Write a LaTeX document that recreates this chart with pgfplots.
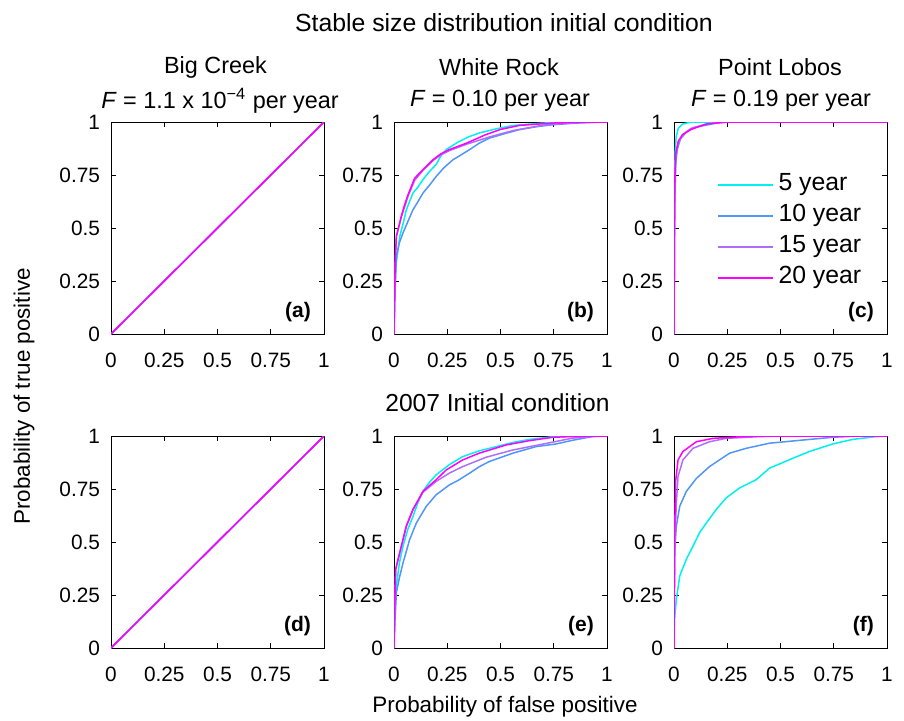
\documentclass[border=0pt]{standalone}
\usepackage{fontspec}
\setmainfont{Liberation Sans}
\usepackage{pgfplots}
\pgfplotsset{compat=1.18}

\definecolor{c5}{RGB}{0,240,240}
\definecolor{c10}{RGB}{80,150,250}
\definecolor{c15}{RGB}{175,110,250}
\definecolor{c20}{RGB}{255,0,255}

\pgfplotsset{
  rocax/.style={
    scale only axis,
    width=106.5pt, height=106pt,
    xmin=0, xmax=1, ymin=0, ymax=1,
    xtick={0,0.25,0.5,0.75,1},
    ytick={0,0.25,0.5,0.75,1},
    tick align=inside,
    major tick length=2.5pt,
    axis line style={line width=0.5pt},
    every tick/.style={black, line width=0.4pt},
    tick label style={font=\fontsize{10.4}{12}\selectfont},
    xticklabel style={yshift=-6pt},
    yticklabel style={xshift=-2pt},
    /pgf/number format/assume math mode=true,
  },
  y5/.style={c5, line width=0.75pt},
  y10/.style={c10, line width=0.75pt},
  y15/.style={c15, line width=0.75pt},
  y20/.style={c20, line width=0.75pt},
}
\newcommand{\plab}[1]{\node[anchor=south east, inner sep=0pt, font=\bfseries\fontsize{10.5}{12}\selectfont]
  at (rel axis cs:0.94,0.055) {#1};}

\begin{document}
\begin{tikzpicture}[x=1pt,y=1pt]
\path[use as bounding box] (0,0) rectangle (452,360);

% ---- titles and labels
\node[font=\fontsize{12.4}{14}\selectfont] at (252,348.5) {Stable size distribution initial condition};
\node[font=\fontsize{11.7}{13}\selectfont] at (107.75,326.25) {Big Creek};
\node[font=\fontsize{11.7}{13}\selectfont] at (110,309.5) {\textit{F} = 1.1 x 10\textsuperscript{−4} per year};
\node[font=\fontsize{11.7}{13}\selectfont] at (249.5,326.25) {White Rock};
\node[font=\fontsize{11.7}{13}\selectfont] at (250,309.5) {\textit{F} = 0.10 per year};
\node[font=\fontsize{11.7}{13}\selectfont] at (390,326.25) {Point Lobos};
\node[font=\fontsize{11.7}{13}\selectfont] at (390.5,309.5) {\textit{F} = 0.19 per year};
\node[font=\fontsize{12.3}{14}\selectfont] at (248.75,158.5) {2007 Initial condition};
\node[font=\fontsize{11.2}{13}\selectfont, rotate=90] at (12,161.75) {Probability of true positive};
\node[font=\fontsize{11.2}{13}\selectfont] at (252.5,6.75) {Probability of false positive};

% ---- (a) Big Creek, stable
\begin{axis}[rocax, at={(55.5pt,193pt)}, anchor=south west]
\addplot[y5] coordinates {(0,0) (1,1)};
\addplot[y10] coordinates {(0,0) (1,1)};
\addplot[y15] coordinates {(0,0) (1,1)};
\addplot[y20] coordinates {(0,0) (1,1)};
\plab{(a)}
\end{axis}

% ---- (b) White Rock, stable
\begin{axis}[rocax, at={(197pt,193pt)}, anchor=south west]
\addplot[y5] coordinates {
  (0,0) (0.004,0.2) (0.01,0.33) (0.027,0.46) (0.045,0.53) (0.058,0.586)
  (0.075,0.63) (0.089,0.665) (0.11,0.69) (0.136,0.728) (0.165,0.765)
  (0.198,0.80) (0.22,0.84) (0.245,0.87) (0.30,0.905) (0.35,0.93)
  (0.40,0.948) (0.48,0.968) (0.56,0.984) (0.70,0.995) (0.85,1) (1,1)};
\addplot[y10] coordinates {
  (0,0) (0.004,0.18) (0.011,0.365) (0.025,0.43) (0.042,0.476) (0.065,0.53)
  (0.089,0.586) (0.11,0.62) (0.136,0.665) (0.165,0.70) (0.198,0.743)
  (0.235,0.785) (0.277,0.822) (0.315,0.845) (0.355,0.87) (0.40,0.90)
  (0.448,0.924) (0.52,0.945) (0.589,0.964) (0.67,0.978) (0.745,0.987)
  (0.84,0.994) (0.93,0.998) (1,1)};
\addplot[y15] coordinates {
  (0,0) (0.003,0.2) (0.006,0.35) (0.011,0.46) (0.034,0.55) (0.05,0.60)
  (0.066,0.65) (0.097,0.725) (0.136,0.772) (0.183,0.818) (0.22,0.845)
  (0.26,0.865) (0.34,0.895) (0.45,0.93) (0.56,0.96) (0.70,0.985)
  (0.85,0.997) (1,1)};
\addplot[y20] coordinates {
  (0,0) (0.003,0.2) (0.006,0.35) (0.011,0.46) (0.034,0.554) (0.05,0.61)
  (0.066,0.657) (0.097,0.735) (0.136,0.775) (0.183,0.822) (0.22,0.85)
  (0.26,0.87) (0.34,0.90) (0.43,0.94) (0.50,0.965) (0.59,0.984)
  (0.745,0.995) (0.9,1) (1,1)};
\plab{(b)}
\end{axis}

% ---- (c) Point Lobos, stable
\begin{axis}[rocax, at={(337pt,193pt)}, anchor=south west,
  legend style={at={(0.2,0.7775)}, anchor=north west, draw=none, fill=none,
    inner sep=0pt, row sep=0pt,
    font=\fontsize{12.4}{14}\selectfont,
    nodes={text height=8.2pt, text depth=2.3pt, inner sep=2.5pt}},
  legend cell align=left,
  legend image code/.code={\draw[#1] (0pt,0pt) -- (27.5pt,0pt);}]
\addplot[y5] coordinates {
  (0,0) (0.002,0.6) (0.005,0.85) (0.01,0.93) (0.02,0.97) (0.04,0.99) (0.08,1) (1,1)};
\addlegendentry{5 year}
\addplot[y10] coordinates {
  (0,0) (0.003,0.6) (0.008,0.8) (0.015,0.87) (0.03,0.92) (0.06,0.955)
  (0.1,0.975) (0.2,0.995) (0.25,1) (1,1)};
\addlegendentry{10 year}
\addplot[y15] coordinates {
  (0,0) (0.003,0.65) (0.008,0.83) (0.02,0.9) (0.04,0.94) (0.08,0.97)
  (0.15,0.99) (0.22,1) (1,1)};
\addlegendentry{15 year}
\addplot[y20] coordinates {
  (0,0) (0.003,0.7) (0.008,0.85) (0.02,0.91) (0.04,0.94) (0.08,0.965)
  (0.15,0.99) (0.25,1) (1,1)};
\addlegendentry{20 year}
\plab{(c)}
\end{axis}

% ---- (d) Big Creek, 2007
\begin{axis}[rocax, at={(55.5pt,36pt)}, anchor=south west]
\addplot[y5] coordinates {(0,0) (1,1)};
\addplot[y10] coordinates {(0,0) (1,1)};
\addplot[y15] coordinates {(0,0) (1,1)};
\addplot[y20] coordinates {(0,0) (1,1)};
\plab{(d)}
\end{axis}

% ---- (e) White Rock, 2007
\begin{axis}[rocax, at={(197pt,36pt)}, anchor=south west]
\addplot[y5] coordinates {
  (0,0) (0.004,0.15) (0.011,0.29) (0.025,0.40) (0.042,0.48) (0.065,0.56)
  (0.089,0.62) (0.11,0.68) (0.136,0.74) (0.165,0.78) (0.198,0.817)
  (0.26,0.865) (0.323,0.903) (0.40,0.93) (0.48,0.95) (0.56,0.97)
  (0.636,0.984) (0.75,0.997) (1,1)};
\addplot[y10] coordinates {
  (0,0) (0.004,0.12) (0.011,0.26) (0.025,0.33) (0.042,0.40) (0.073,0.51)
  (0.105,0.59) (0.152,0.669) (0.198,0.723) (0.261,0.77) (0.30,0.79)
  (0.355,0.825) (0.40,0.855) (0.448,0.88) (0.558,0.919) (0.667,0.95)
  (0.761,0.9625) (0.839,0.98) (0.93,0.997) (1,1)};
\addplot[y15] coordinates {
  (0,0) (0.003,0.2) (0.008,0.372) (0.027,0.45) (0.058,0.575) (0.089,0.653)
  (0.136,0.735) (0.198,0.786) (0.26,0.825) (0.323,0.856) (0.433,0.90)
  (0.558,0.934) (0.714,0.965) (0.839,0.99) (0.95,1) (1,1)};
\addplot[y20] coordinates {
  (0,0) (0.003,0.2) (0.008,0.372) (0.027,0.45) (0.058,0.575) (0.089,0.653)
  (0.136,0.739) (0.198,0.794) (0.245,0.84) (0.323,0.8875) (0.40,0.919)
  (0.527,0.958) (0.636,0.978) (0.745,0.994) (0.9,1) (1,1)};
\plab{(e)}
\end{axis}

% ---- (f) Point Lobos, 2007
\begin{axis}[rocax, at={(337pt,36pt)}, anchor=south west]
\addplot[y5] coordinates {
  (0,0) (0.003,0.1375) (0.011,0.23) (0.027,0.34) (0.058,0.419) (0.089,0.48)
  (0.12,0.544) (0.152,0.59) (0.198,0.653) (0.245,0.708) (0.308,0.755)
  (0.386,0.794) (0.448,0.848) (0.558,0.895) (0.636,0.927) (0.745,0.9625)
  (0.839,0.984) (0.948,0.997) (1,1)};
\addplot[y10] coordinates {
  (0,0) (0.003,0.45) (0.011,0.575) (0.027,0.669) (0.058,0.739) (0.105,0.80)
  (0.167,0.856) (0.261,0.919) (0.339,0.942) (0.448,0.966) (0.605,0.981)
  (0.745,0.994) (0.87,1) (1,1)};
\addplot[y15] coordinates {
  (0,0) (0.004,0.5) (0.011,0.684) (0.019,0.81) (0.042,0.8875) (0.089,0.942)
  (0.167,0.973) (0.245,0.989) (0.40,0.997) (0.5,1) (1,1)};
\addplot[y20] coordinates {
  (0,0) (0.002,0.5) (0.008,0.79) (0.019,0.8875) (0.042,0.927) (0.105,0.973)
  (0.183,0.989) (0.32,0.997) (0.4,1) (1,1)};
\plab{(f)}
\end{axis}
\end{tikzpicture}
\end{document}
